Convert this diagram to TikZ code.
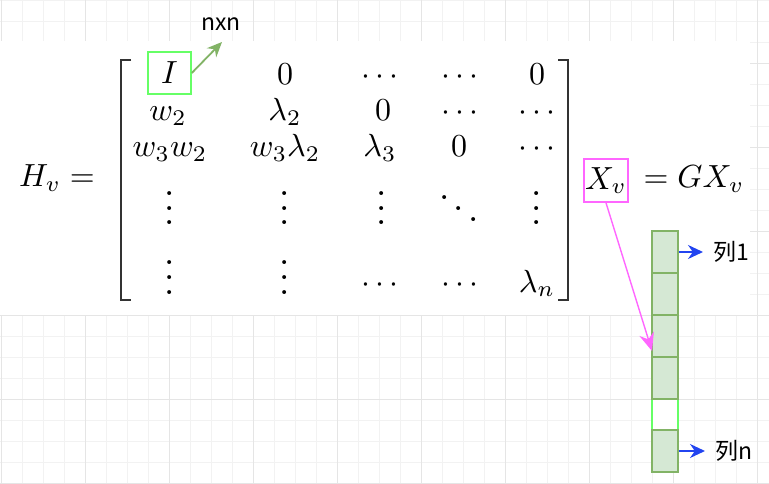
\documentclass[tikz,border=0pt]{standalone}
\usepackage{fontspec}
\newfontfamily\cjk{Noto Sans CJK SC}
\usepackage{tikz}
\usetikzlibrary{arrows.meta, positioning}
\usepackage{xcolor}
\definecolor{cellfill}{HTML}{D5E8D4}
\definecolor{cellline}{HTML}{82B366}
\definecolor{boxgreen}{HTML}{66FF66}
\definecolor{boxpink}{HTML}{FF66FF}
\definecolor{arrowblue}{HTML}{2244F0}
\newcommand{\bigmath}[1]{\scalebox{3.2}{$#1$}}
\newcommand{\labsize}{\cjk\fontsize{23}{28}\selectfont}
\newcommand{\tallvdots}{\raisebox{0pt}[34pt][0pt]{\scalebox{3.7}{$\vdots$}}}
\newcommand{\tallddots}{\raisebox{0pt}[31pt][0pt]{\scalebox{3.7}{$\ddots$}}}

\begin{document}
\begin{tikzpicture}[x=1pt, y=-1pt,
    minorline/.style={draw=black!5, line width=0.8pt},
    majorline/.style={draw=black!10, line width=0.8pt},
    ent/.style={anchor=base, inner sep=0pt},
    bracket/.style={draw=black!80, line width=2.7pt},
    cell/.style={draw=cellline, fill=cellfill, line width=1.8pt, minimum width=26, minimum height=42, inner sep=0pt},
    lab/.style={anchor=west, inner xsep=10pt, inner ysep=0pt, font=\labsize},
    bluearrow/.style={draw=arrowblue, line width=1.8pt, -{Stealth[length=15pt, width=14pt]}},
    pinkarrow/.style={draw=boxpink, line width=1.4pt, -{Stealth[length=18pt, width=15pt]}},
    greenarrow/.style={draw=cellline, line width=1.8pt, -{Stealth[length=15pt, width=13pt]}}]
    \useasboundingbox (0,0) rectangle (769,484);

    % background grid
    \foreach \gx in {1,22,...,757} \draw[minorline] (\gx,0) -- (\gx,484);
    \foreach \gy in {0,21,...,483} \draw[minorline] (0,\gy) -- (769,\gy);
    \foreach \gx in {1,85,...,757} \draw[majorline] (\gx,0) -- (\gx,484);
    \foreach \gy in {63,147,...,483} \draw[majorline] (0,\gy) -- (769,\gy);
    \fill[white] (0,41) rectangle (750,315);

    % the formula
    \node[ent] (Hv) at (57,187) {\bigmath{H_v =}};
    \draw[bracket] (131,60) -- (121,60) -- (121,300) -- (131,300);
    \draw[bracket] (558,60) -- (568,60) -- (568,300) -- (558,300);

    \node[draw=boxgreen, line width=1.6pt, minimum width=43, minimum height=42, inner sep=0pt] (Ibox) at (169.5,73) {\bigmath{I}};
    \node[ent] (m12) at (285,85) {\bigmath{0}};
    \node[ent] (m13) at (380,85) {\bigmath{\cdots}};
    \node[ent] (m14) at (460,85) {\bigmath{\cdots}};
    \node[ent] (m15) at (537,85) {\bigmath{0}};

    \node[ent] (m21) at (168,121) {\bigmath{w_2}};
    \node[ent] (m22) at (285,121) {\bigmath{\lambda_2}};
    \node[ent] (m23) at (383,121) {\bigmath{0}};
    \node[ent] (m24) at (460,121) {\bigmath{\cdots}};
    \node[ent] (m25) at (537,121) {\bigmath{\cdots}};

    \node[ent] (m31) at (170,157) {\bigmath{w_3w_2}};
    \node[ent] (m32) at (285,157) {\bigmath{w_3\lambda_2}};
    \node[ent] (m33) at (380,157) {\bigmath{\lambda_3}};
    \node[ent] (m34) at (459,157) {\bigmath{0}};
    \node[ent] (m35) at (537,157) {\bigmath{\cdots}};

    \node[ent] (m41) at (170,225) {\tallvdots};
    \node[ent] (m42) at (285,225) {\tallvdots};
    \node[ent] (m43) at (382,225) {\tallvdots};
    \node[ent] (m44) at (459,225) {\tallddots};
    \node[ent] (m45) at (537,225) {\tallvdots};

    \node[ent] (m51) at (170,294) {\tallvdots};
    \node[ent] (m52) at (285,294) {\tallvdots};
    \node[ent] (m53) at (380,292) {\bigmath{\cdots}};
    \node[ent] (m54) at (460,292) {\bigmath{\cdots}};
    \node[ent] (m55) at (537,292) {\bigmath{\lambda_n}};

    \node[draw=boxpink, line width=1.6pt, minimum width=44, minimum height=43, inner sep=0pt] (Xv) at (606,180.5) {\bigmath{X_v}};
    \node[ent] (GXv) at (694,188) {\bigmath{=GX_v}};

    % size note
    \node[font=\labsize, inner sep=0pt] (nxn) at (221,24) {nxn};
    \coordinate (nxntip) at (222,42);
    \draw[greenarrow] (Ibox.east) -- (nxntip);

    % the column X_v
    \node[draw=boxgreen, fill=white, line width=1.6pt, minimum width=26, minimum height=31, inner sep=0pt] (gap) at (665,414.5) {};
    \node[cell] (c1) at (665,252) {};
    \node[cell] (c2) at (665,294) {};
    \node[cell] (c3) at (665,336) {};
    \node[cell] (c4) at (665,378) {};
    \node[cell] (cn) at (665,451) {};

    \node[lab] (lab1) at (703,252) {列1};
    \node[lab] (labn) at (705,451) {列n};
    \draw[bluearrow] (c1.east) -- (lab1.west);
    \draw[bluearrow] (cn.east) -- (labn.west);

    \coordinate (pinktip) at (652,351);
    \draw[pinkarrow] (Xv.south) -- (pinktip);
\end{tikzpicture}
\end{document}
